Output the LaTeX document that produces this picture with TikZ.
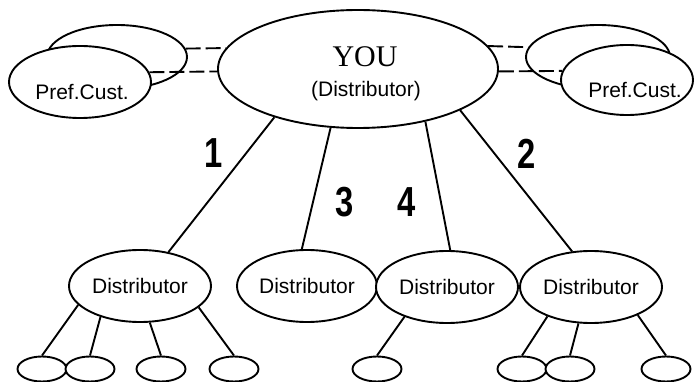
\documentclass[tikz,border=0pt]{standalone}
\usepackage{fontspec}
\setmainfont{Liberation Sans}
\newfontfamily\youfont{Liberation Serif}
\newfontfamily\numfont[FakeStretch=0.78]{Liberation Sans}
\usetikzlibrary{shapes.geometric}
\newcommand{\lw}{1.9pt}

\begin{document}
\begin{tikzpicture}[x=1pt,y=-1pt,
  bubble/.style={ellipse,draw,fill=white,line width=\lw,inner sep=0pt,font=\fontsize{21}{25}\selectfont},
  leaf/.style={ellipse,draw,fill=white,line width=\lw,inner sep=0pt,minimum width=49pt,minimum height=25pt},
  txt/.style={inner sep=0pt,font=\fontsize{21}{25}\selectfont},
  link/.style={line width=\lw},
  dlink/.style={line width=\lw,dash pattern=on 15pt off 5pt},
  num/.style={inner sep=0pt,font=\numfont\bfseries\fontsize{42}{42}\selectfont}]
\useasboundingbox (0,0) rectangle (694,382);
% customers behind
\node[bubble,minimum width=140pt,minimum height=64pt] (bl) at (117,57) {};
\node[bubble,minimum width=144pt,minimum height=64pt] (br) at (598,57) {};
\node[bubble,minimum width=142pt,minimum height=72pt] (pl) at (80,82) {};
\node[bubble,minimum width=132pt,minimum height=70pt] (pr) at (627,80) {};
\node[txt] (plt) at (82,92) {Pref.Cust.};
\node[txt] (prt) at (635,90) {Pref.Cust.};
% you
\node[bubble,minimum width=280pt,minimum height=118pt] (you) at (358,69) {};
\node[txt,font=\youfont\fontsize{30}{34}\selectfont] (yout) at (365,57) {YOU};
\node[txt] (youd) at (366,91) {(Distributor)};
\draw[dlink] (bl.7) -- (you.171);
\draw[dlink] (pl.8) -- (you.181);
\draw[dlink] (you.10) -- (br.172);
\draw[dlink] (you.359) -- (pr.172);
% distributors
\node[bubble,minimum width=142pt,minimum height=72pt] (d1) at (140,286) {Distributor\hspace{14pt}};
\node[bubble,minimum width=140pt,minimum height=72pt] (d3) at (307,286) {Distributor\hspace{14pt}};
\node[bubble,minimum width=142pt,minimum height=72pt] (d4) at (447,287) {Distributor\hspace{6pt}};
\node[bubble,minimum width=142pt,minimum height=72pt] (d2) at (591,287) {Distributor\hspace{6pt}};
\draw[link] (you.210) -- (d1.50);
\draw[link] (you.245) -- (d3.98);
\draw[link] (you.322) -- (d4.85);
\draw[link] (you.338) -- (d2.118);
\node[num] (n1) at (214,153) {1};
\node[num] (n2) at (527,154) {2};
\node[num] (n3) at (345,202) {3};
\node[num] (n4) at (407,202) {4};
% leaves
\node[leaf] (l11) at (42,369) {};
\node[leaf] (l12) at (90,369) {};
\node[leaf] (l13) at (161,369) {};
\node[leaf] (l14) at (234,369) {};
\node[leaf] (l41) at (377,369) {};
\node[leaf] (l21) at (522,369) {};
\node[leaf] (l22) at (570,369) {};
\node[leaf] (l23) at (666,369) {};
\draw[link] (d1.197) -- (l11.north);
\draw[link] (d1.218) -- (l12.north);
\draw[link] (d1.285) -- (l13.north);
\draw[link] (d1.340) -- (l14.north);
\draw[link] (d4.215) -- (l41.north);
\draw[link] (d2.214) -- (l21.north);
\draw[link] (d2.251) -- (l22.north);
\draw[link] (d2.329) -- (l23.north);
\end{tikzpicture}
\end{document}
